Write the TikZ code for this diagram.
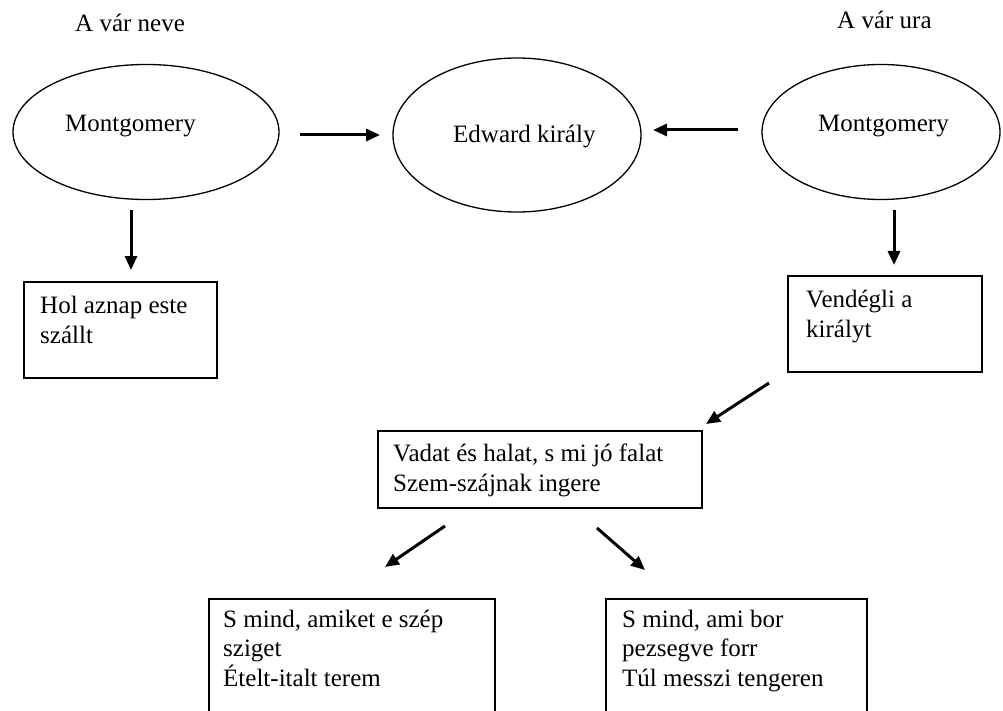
\documentclass[tikz,border=0pt]{standalone}
\usepackage{fontspec}
\setmainfont{Liberation Serif}
\usetikzlibrary{shapes.geometric,arrows.meta}
\tikzset{
  ell/.style={draw, ellipse, line width=1.3pt, inner sep=0pt},
  box/.style={draw, rectangle, line width=1.8pt, inner sep=0pt},
  txt/.style={anchor=base west, inner sep=0pt, align=left,
    font=\rmfamily\fontsize{25}{29.5}\selectfont},
  arr/.style={line width=3pt, -{Triangle[length=14pt,width=12pt]}}
}
\begin{document}
\begin{tikzpicture}[x=1pt,y=-1pt]
\useasboundingbox (0,0) rectangle (1003,711);
\clip (0,0) rectangle (1003,711);
% titles
\node[txt] (t1) at (75,32) {A vár neve};
\node[txt] (t2) at (837,29) {A vár ura};
% ellipses
\node[ell, minimum width=266pt, minimum height=135pt] (m1) at (146,132) {};
\node[ell, minimum width=248pt, minimum height=154pt] (ed) at (517,135) {};
\node[ell, minimum width=238pt, minimum height=135pt] (m2) at (881,132) {};
\node[txt] (m1t) at (65,132) {Montgomery};
\node[txt] (edt) at (453,143) {Edward király};
\node[txt] (m2t) at (818,132) {Montgomery};
% boxes
\node[box, minimum width=193pt, minimum height=96pt] (b1) at (120.5,330) {};
\node[box, minimum width=194pt, minimum height=96pt] (b2) at (885,324) {};
\node[box, minimum width=324pt, minimum height=77pt] (b3) at (540,469.5) {};
\node[box, minimum width=286pt, minimum height=151pt] (b4) at (352,674.5) {};
\node[box, minimum width=261pt, minimum height=151pt] (b5) at (736.5,674.5) {};
\node[txt] (b1t) at (40,343) {Hol aznap este\\szállt};
\node[txt] (b2t) at (806,337) {Vendégli a\\királyt};
\node[txt] (b3t) at (393,491) {Vadat és halat, s mi jó falat\\Szem-szájnak ingere};
\node[txt] (b4t) at (223,686) {S mind, amiket e szép\\sziget\\Ételt-italt terem};
\node[txt] (b5t) at (622,686) {S mind, ami bor\\pezsegve forr\\Túl messzi tengeren};
% arrow ends
\coordinate (a1s) at (300,135); \coordinate (a1e) at (380,135);
\coordinate (a2s) at (738,130); \coordinate (a2e) at (653,130);
\coordinate (a3s) at (131,210); \coordinate (a3e) at (131,270);
\coordinate (a4s) at (894,210); \coordinate (a4e) at (894,265);
\coordinate (a5s) at (769,383); \coordinate (a5e) at (706,424);
\coordinate (a6s) at (445,526); \coordinate (a6e) at (385,567);
\coordinate (a7s) at (597,528); \coordinate (a7e) at (645,570);
\draw[arr] (a1s) -- (a1e);
\draw[arr] (a2s) -- (a2e);
\draw[arr] (a3s) -- (a3e);
\draw[arr] (a4s) -- (a4e);
\draw[arr] (a5s) -- (a5e);
\draw[arr] (a6s) -- (a6e);
\draw[arr] (a7s) -- (a7e);
\end{tikzpicture}
\end{document}
